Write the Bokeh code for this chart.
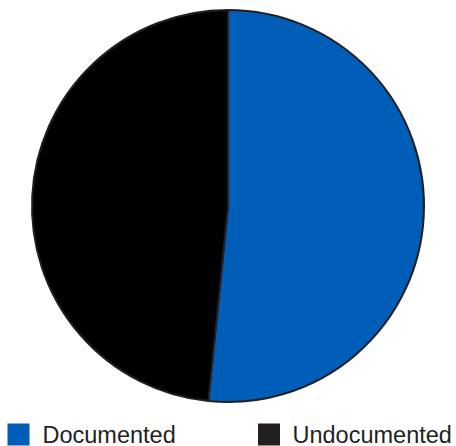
import numpy as np
from bokeh.plotting import figure
from bokeh.models import Range1d, ColumnDataSource
from bokeh.core.properties import value
from bokeh.embed import file_html
from bokeh.resources import INLINE

categories = ["Documented", "Undocumented"]
shares = [51.6, 48.4]
pie_colors = ["#005EB8", "#000000"]
legend_colors = ["#005EB8", "#231F20"]

W, H = 456, 446
p = figure(width=W, height=H, output_backend="svg", toolbar_location=None,
           x_range=Range1d(0, W), y_range=Range1d(0, H), min_border=0)
p.axis.visible = False
p.grid.visible = False
p.outline_line_color = None
p.background_fill_color = "white"

vals = np.array(shares, dtype=float)
frac = vals / vals.sum()
cum = np.concatenate([[0], np.cumsum(frac)])
start = [np.pi / 2 - 2 * np.pi * cum[i + 1] for i in range(len(vals))]
end = [np.pi / 2 - 2 * np.pi * cum[i] for i in range(len(vals))]

src = ColumnDataSource(dict(start=start, end=end, color=pie_colors, cat=categories))
cx, cy = 227.5, H - 205.5
p.wedge(x=cx, y=cy, radius=196, radius_units="screen", start_angle="start", end_angle="end",
        fill_color="color", line_color="#231F20", line_width=2, source=src)

leg = ColumnDataSource(dict(
    sx=[18, 268.5], tx=[42, 292], y=[H - 434, H - 434],
    color=legend_colors, label=categories))
p.scatter(x="sx", y="y", marker="square", size=22, fill_color="color", line_color=None, source=leg)
p.text(x="tx", y="y", text="label", text_font=value("Liberation Sans"), text_font_size="23.5px",
       text_baseline="middle", text_color="#231F20", source=leg)

open("out.html", "w").write(file_html(p, INLINE))
